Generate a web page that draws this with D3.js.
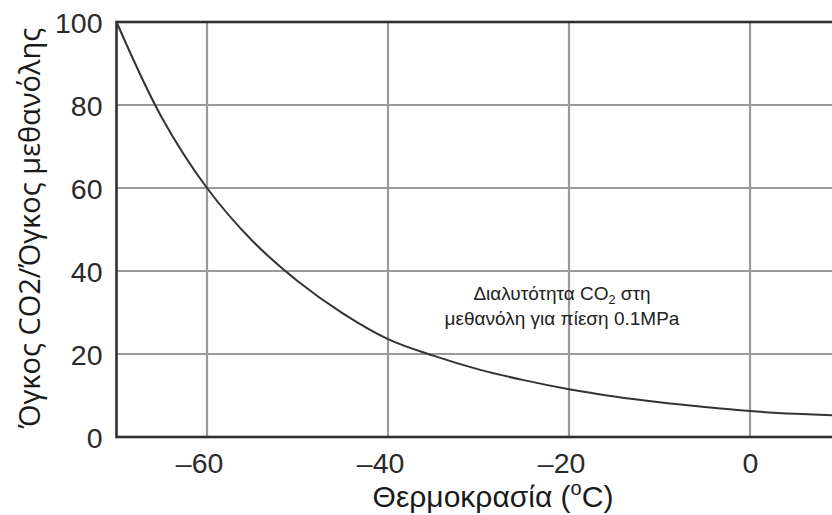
<!DOCTYPE html>
<html><head><meta charset="utf-8">
<script src="https://cdn.jsdelivr.net/npm/d3@7"></script>
<style>body{margin:0;background:#fff}svg{display:block}</style>
</head><body>
<svg id="c" width="832" height="515"></svg>
<script>
const temps = [-70, -65, -60, -55, -50, -45, -40, -35, -30, -25, -20, -15, -10, -5, 0, 5, 10];
const ratio = [100, 77, 60, 47.3, 37.6, 29.8, 23.6, 19.6, 16.3, 13.7, 11.5, 9.75, 8.35, 7.2, 6.25, 5.6, 5.15];
const xTicks = [-60, -40, -20, 0];
const yTicks = [0, 20, 40, 60, 80, 100];
const xTitle = "Θερμοκρασία (";
const yTitle = "Όγκος CO2/Όγκος μεθανόλης";
const note1 = ["Διαλυτότητα CO", "2", " στη"];
const note2 = "μεθανόλη για πίεση 0.1MPa";

const svg = d3.select("#c");
const L = 116.5, R = 840.5, T = 22, B = 437;
const x = d3.scaleLinear().domain([-70, 10]).range([L, R]);
const y = d3.scaleLinear().domain([0, 100]).range([B, T]);

const grid = svg.append("g").attr("stroke", "#9a9a9a").attr("stroke-width", 2.2);
grid.selectAll("line.v").data(xTicks).join("line")
  .attr("x1", d => x(d)).attr("x2", d => x(d)).attr("y1", T).attr("y2", B);
grid.selectAll("line.h").data(yTicks.filter(d => d > 0 && d < 100)).join("line")
  .attr("x1", L).attr("x2", R).attr("y1", d => y(d)).attr("y2", d => y(d));

svg.append("rect").attr("x", L).attr("y", T).attr("width", R - L).attr("height", B - T)
  .attr("fill", "none").attr("stroke", "#303030").attr("stroke-width", 2.6);

const line = d3.line().x((d, i) => x(temps[i])).y(d => y(d)).curve(d3.curveCatmullRom.alpha(0.5));
svg.append("path").datum(ratio).attr("d", line)
  .attr("fill", "none").attr("stroke", "#333").attr("stroke-width", 2);

const FS = 28.5;
const fmt = d => d < 0 ? "\u2013" + Math.abs(d) : String(d);
const xa = svg.append("g").attr("transform", `translate(0,${B})`)
  .call(d3.axisBottom(x).tickValues(xTicks).tickFormat(fmt).tickSize(0).tickPadding(0));
const ya = svg.append("g").attr("transform", `translate(${L},0)`)
  .call(d3.axisLeft(y).tickValues(yTicks).tickSize(0).tickPadding(14));
[xa, ya].forEach(a => {
  a.select(".domain").remove();
  a.selectAll("text").attr("font-family", "Liberation Sans, Arial, sans-serif")
    .attr("font-size", FS).attr("fill", "#2a2a2a");
});
// minus sign hangs left; digits centred on the tick
const tmp = svg.append("text").attr("font-family", "Liberation Sans, Arial, sans-serif").attr("font-size", FS).text("\u2013");
const mw = tmp.node().getComputedTextLength();
tmp.remove();
xa.selectAll("text").attr("dy", null).attr("y", 36).attr("dx", d => d < 0 ? -mw / 2 : 0);
ya.selectAll("text").attr("dy", "0.36em");

const xt = svg.append("text").attr("x", 493).attr("y", 507).attr("text-anchor", "middle")
  .attr("font-family", "Liberation Sans, Arial, sans-serif").attr("font-size", 30).attr("fill", "#1a1a1a");
xt.append("tspan").text(xTitle);
xt.append("tspan").attr("font-size", 20).attr("dy", -12).text("o");
xt.append("tspan").attr("dy", 12).text("C)");

svg.append("text").attr("transform", "translate(40,228) rotate(-90)").attr("text-anchor", "middle")
  .attr("font-family", "Open Sans, sans-serif").attr("font-size", 29).attr("fill", "#1a1a1a")
  .text(yTitle);

const n = svg.append("g").attr("font-family", "Liberation Sans, Arial, sans-serif")
  .attr("font-size", 19).attr("fill", "#222").attr("text-anchor", "middle");
const t1 = n.append("text").attr("x", 562).attr("y", 300);
t1.append("tspan").text(note1[0]);
t1.append("tspan").attr("font-size", 12.5).attr("dy", 4).text(note1[1]);
t1.append("tspan").attr("dy", -4).text(note1[2]);
n.append("text").attr("x", 562).attr("y", 325).text(note2);
</script>
</body></html>
